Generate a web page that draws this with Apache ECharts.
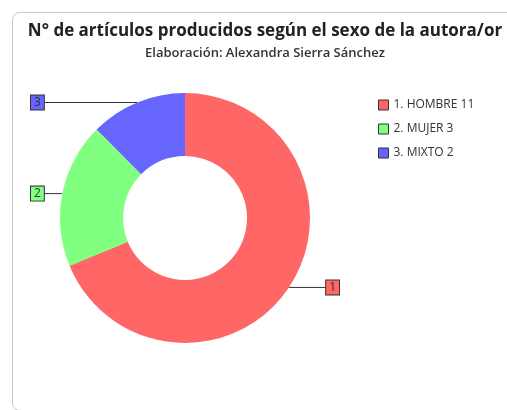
<!DOCTYPE html>
<html>
<head>
<meta charset="utf-8">
<script src="https://cdn.jsdelivr.net/npm/echarts@6/dist/echarts.min.js"></script>
<style>
  html, body { margin: 0; padding: 0; width: 507px; height: 410px; overflow: hidden; background: #fff; }
  #main { position: absolute; left: 12px; top: 12px; width: 504px; height: 397px;
          border: 1px solid #c8c8c8; border-radius: 8px; }
</style>
</head>
<body>
<div id="main"></div>
<script>
  var categorias = ['HOMBRE', 'MUJER', 'MIXTO'];
  var valores = [11, 3, 2];
  var colores = ['#ff6666', '#80ff80', '#6666ff'];

  var datos = categorias.map(function (c, i) {
    return {
      name: (i + 1) + '. ' + c,
      value: valores[i],
      itemStyle: { color: colores[i] },
      label: { backgroundColor: colores[i] }
    };
  });

  var myChart = echarts.init(document.getElementById('main'));
  myChart.setOption({
    animation: false,
    textStyle: { fontFamily: 'Open Sans' },
    title: {
      text: 'N° de artículos producidos según el sexo de la autora/or',
      subtext: 'Elaboración: Alexandra Sierra Sánchez',
      left: 'center',
      top: 10,
      padding: 0,
      itemGap: 7,
      textStyle: { fontSize: 17, fontWeight: 'bold', color: '#222', fontFamily: 'Open Sans' },
      subtextStyle: { fontSize: 13, fontWeight: 600, color: '#333', fontFamily: 'Open Sans' }
    },
    legend: {
      orient: 'vertical',
      left: 360,
      top: 81,
      itemWidth: 10,
      itemHeight: 10,
      itemGap: 12,
      icon: 'rect',
      itemStyle: { borderColor: '#333', borderWidth: 1 },
      textStyle: { fontSize: 12, color: '#333', fontFamily: 'Open Sans' },
      formatter: function (name) {
        var i = datos.findIndex(function (d) { return d.name === name; });
        return name + ' ' + valores[i];
      }
    },
    series: [{
      type: 'pie',
      left: 18,
      width: 308,
      top: 0,
      bottom: 0,
      center: ['50%', 205],
      radius: [62, 125],
      startAngle: 90,
      clockwise: true,
      avoidLabelOverlap: false,
      label: {
        show: true,
        position: 'outside',
        alignTo: 'edge',
        edgeDistance: 0,
        distanceToLabelLine: 0,
        formatter: function (p) { return String(p.dataIndex + 1); },
        fontSize: 12,
        color: '#333',
        padding: [1, 3, 1, 3],
        borderColor: '#333',
        borderWidth: 1
      },
      labelLine: {
        show: true,
        length: 0,
        length2: 10,
        lineStyle: { color: '#333', width: 1 }
      },
      // prolonga la línea guía hasta la caja de la etiqueta
      labelLayout: function (params) {
        var pts = params.labelLinePoints;
        if (!pts) return {};
        var r = params.labelRect;
        var izq = pts[pts.length - 1][0] < pts[0][0];
        var fin = izq ? r.x + r.width : r.x;
        return { labelLinePoints: [pts[0], [fin, pts[0][1]]] };
      },
      emphasis: { disabled: true },
      data: datos
    }]
  });
</script>
</body>
</html>
